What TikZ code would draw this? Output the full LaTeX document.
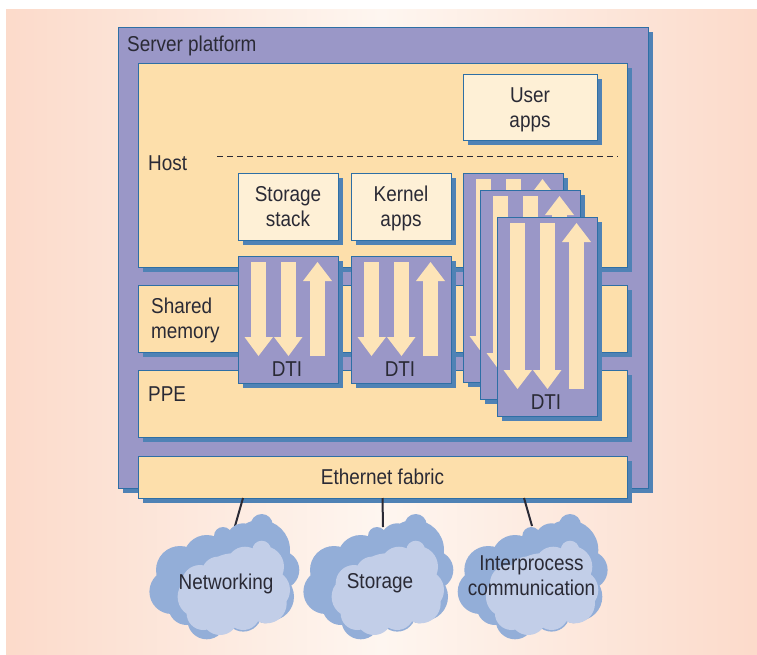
\documentclass[tikz,border=0pt]{standalone}
\usepackage{fontspec}
\setmainfont[FakeStretch=0.88]{Liberation Sans}
\definecolor{pagepink}{HTML}{FBD5C3}
\definecolor{pagewhite}{HTML}{FEF6F0}
\definecolor{platecolor}{HTML}{9A97C7}
\definecolor{creamcolor}{HTML}{FDDFAB}
\definecolor{palecolor}{HTML}{FEF0D6}
\definecolor{edgecolor}{HTML}{2E6FA5}
\definecolor{shadecolor}{HTML}{4F82B5}
\definecolor{clouddark}{HTML}{93AED8}
\definecolor{cloudlight}{HTML}{C2CEE8}
\definecolor{inkcolor}{HTML}{2A2A35}
\pgfdeclarehorizontalshading{pagefade}{100bp}{color(0bp)=(pagepink); color(20bp)=(pagepink); color(50bp)=(pagewhite); color(80bp)=(pagepink); color(100bp)=(pagepink)}
\tikzset{
	txt/.style={text=inkcolor,font=\fontsize{21.5}{25}\selectfont,inner sep=0pt,align=center},
	box/.style={draw=edgecolor,line width=1pt,anchor=north west,inner sep=0pt,outer sep=0pt,
		preaction={draw=none,fill=shadecolor,transform canvas={shift={(5pt,-5pt)}}},
		txt,fill=#1},
	platebox/.style={box=platecolor},
	creambox/.style={box=creamcolor},
	palebox/.style={box=palecolor},
	link/.style={line width=2pt,draw=inkcolor},
}
\def\boxtop{\rule{0pt}{23pt}}
\def\dticard(#1)(#2,#3,#4){
	\node[platebox,minimum width=100pt,minimum height=#4 pt] (#1) at (#2,#3) {};
	\fill[creamcolor!70!palecolor] ({#2+13},{#3+6}) rectangle ({#2+28},{#3+#4-46});
	\fill[creamcolor!70!palecolor] ({#2+6.5},{#3+#4-46}) -- ({#2+35},{#3+#4-46}) -- ({#2+20.5},{#3+#4-27}) -- cycle;
	\fill[creamcolor!70!palecolor] ({#2+43},{#3+6}) rectangle ({#2+58},{#3+#4-46});
	\fill[creamcolor!70!palecolor] ({#2+36},{#3+#4-46}) -- ({#2+64.5},{#3+#4-46}) -- ({#2+50.5},{#3+#4-27}) -- cycle;
	\fill[creamcolor!70!palecolor] ({#2+72},{#3+25}) rectangle ({#2+87},{#3+#4-27});
	\fill[creamcolor!70!palecolor] ({#2+65},{#3+25}) -- ({#2+94},{#3+25}) -- ({#2+79.5},{#3+6}) -- cycle;
}
\def\cloudpuff(#1,#2){
	\fill[clouddark] foreach \cx/\cy/\cr in {-46/-12/24,-54.3/9.7/22.3,-19.3/-23.7/23.3,-3/-46/9,17.3/-42/16.7,35.7/-57/11,34/-32/30,54/-12/19.3,44/14.7/24,-19.3/38/19.3,17.3/31.3/18.3,-39.3/24.7/18.3,39/31.3/10,0.7/1.3/43.3}
		{ ({#1+\cx},{#2+\cy}) circle (\cr) };
	\fill[cloudlight] foreach \cx/\cy/\cr in {-27.7/14.7/20.7,-26/1.3/18.3,-7.7/-8.7/16.7,19/-17/18.3,35.7/-32/9.3,37.3/-15.3/20.7,44/8/20,40.7/21.3/20,-6/34.7/18.3,17.3/31.3/16.7,-22.7/31.3/16.7,7.3/8/36.7}
		{ ({#1+\cx},{#2+\cy}) circle (\cr) };
}
\begin{document}
\begin{tikzpicture}[x=1pt,y=-1pt]
	\useasboundingbox (0,0) rectangle (757,654);
	\shade[shading=pagefade] (6,9) rectangle (757,654);

	% server and its layers
	\node[platebox,minimum width=530pt,minimum height=461pt] (platform) at (118,27) {};
	\node[txt,anchor=west] (platformlabel) at (127,45.5) {Server platform};
	\node[creambox,minimum width=489pt,minimum height=204pt] (host) at (138,63) {};
	\node[creambox,minimum width=489pt,minimum height=67pt] (shared) at (138,285) {};
	\node[creambox,minimum width=489pt,minimum height=67pt] (ppe) at (138,370) {};
	\node[txt,anchor=west] (hostlabel) at (148,163) {Host};
	\node[txt,anchor=west,align=left] (sharedlabel) at (151,320) {Shared\\memory};
	\node[txt,anchor=west] (ppelabel) at (148,394) {PPE};

	\node[palebox,minimum width=134pt,minimum height=66pt] (userapps) at (463,74) {\boxtop User\\apps\strut};
	\draw[dash pattern=on 6pt off 4pt,line width=0.8pt,inkcolor] (217,156) -- (618,156);
	\node[palebox,minimum width=100pt,minimum height=67pt] (storagestack) at (238,173) {\boxtop Storage\\stack\strut};
	\node[palebox,minimum width=100pt,minimum height=67pt] (kernelapps) at (351,173) {\boxtop Kernel\\apps\strut};

	% DTI cards
	\dticard(dtistorage)(238,256,127)
	\dticard(dtikernel)(351,256,127)
	\dticard(dtiback)(463,173,209)
	\dticard(dtimiddle)(480,190,209)
	\dticard(dtifront)(497,217,199)
	\node[txt] (dtistoragelabel) at (287,369) {DTI};
	\node[txt] (dtikernellabel) at (400,369) {DTI};
	\node[txt] (dtifrontlabel) at (546,402) {DTI};

	\node[creambox,minimum width=489pt,minimum height=42pt] (fabric) at (138,456) {Ethernet fabric};

	% links, then the clouds over them
	\coordinate (netend) at (235,526);
	\coordinate (storeend) at (383,527);
	\coordinate (ipcend) at (532,526);
	\draw[link] ([xshift=-139.5pt]fabric.south) -- (netend);
	\draw[link] (fabric.south) -- (storeend);
	\draw[link] ([xshift=141.5pt]fabric.south) -- (ipcend);

	\cloudpuff(226,582)
	\cloudpuff(380,582)
	\cloudpuff(534.3,582)
	\node[txt] (netcloud) at (226,583.5) {Networking};
	\node[txt] (storecloud) at (380,583.5) {Storage};
	\node[txt] (ipccloud) at (531.5,576) {Interprocess\\communication};
\end{tikzpicture}
\end{document}
